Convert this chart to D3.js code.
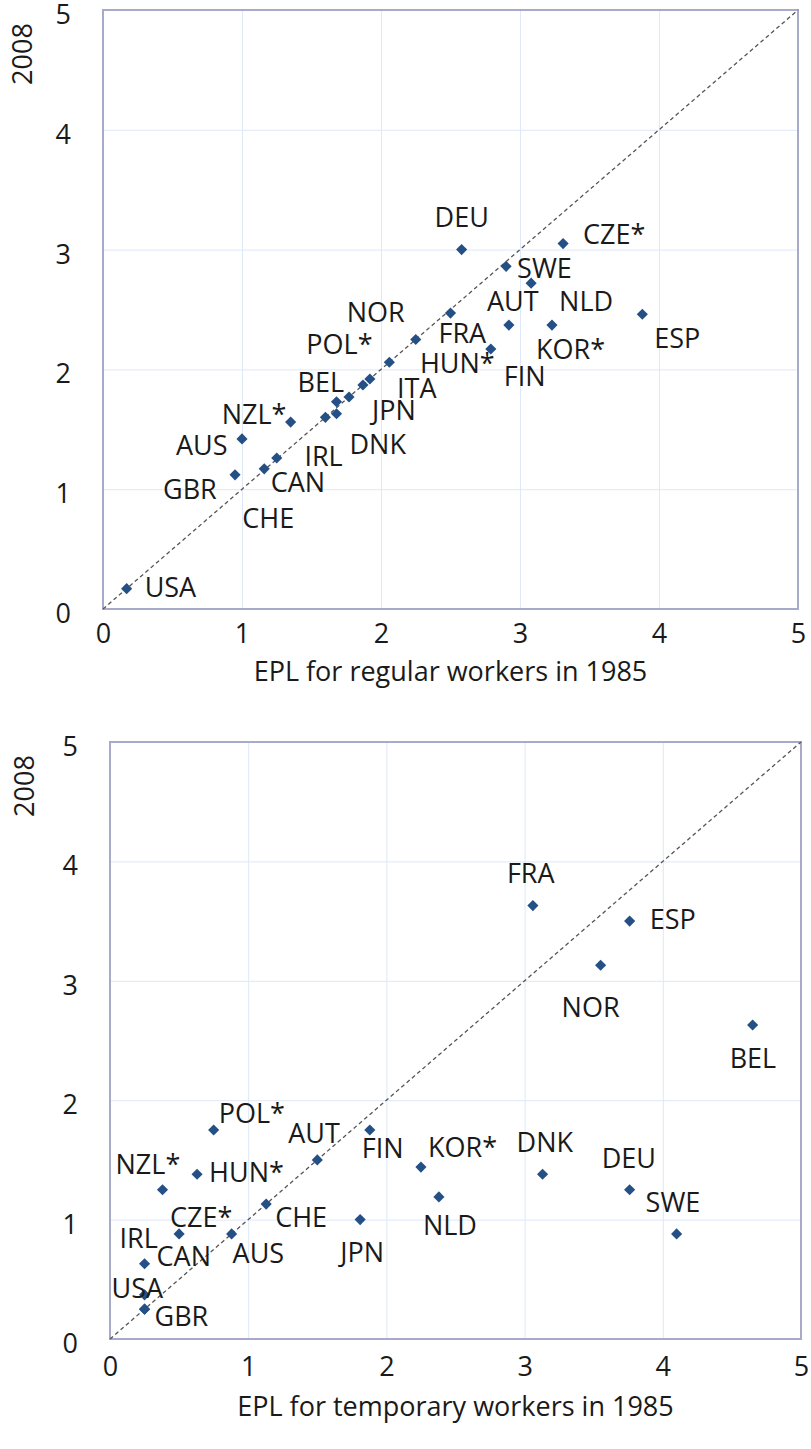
<!DOCTYPE html>
<html>
<head>
<meta charset="utf-8">
<script src="https://cdn.jsdelivr.net/npm/d3@7"></script>
<style>
  body { margin: 0; background: #fff; }
  text { font-family: "Open Sans", sans-serif; fill: #1a1a1a; }
</style>
</head>
<body>
<svg id="chart" width="811" height="1449"></svg>
<script>
// EPL for regular workers: 1985 (x) vs 2008 (y)
var regCountries = ["USA","GBR","AUS","CHE","CAN","NZL*","IRL","DNK","BEL","ITA","JPN","HUN*","POL*","NOR","FRA","FIN","DEU","SWE","AUT","NLD","KOR*","CZE*","ESP"];
var reg1985 = [0.17,0.95,1.00,1.16,1.25,1.35,1.60,1.68,1.68,1.77,1.87,1.92,2.06,2.25,2.50,2.79,2.58,2.90,2.92,3.08,3.23,3.31,3.88];
var reg2008 = [0.17,1.12,1.42,1.17,1.26,1.56,1.60,1.63,1.73,1.77,1.87,1.92,2.06,2.25,2.47,2.17,3.00,2.86,2.37,2.72,2.37,3.05,2.46];

// EPL for temporary workers: 1985 (x) vs 2008 (y)
var tmpCountries = ["GBR","CAN","USA","IRL","CZE*","NZL*","HUN*","POL*","AUS","CHE","AUT","JPN","FIN","KOR*","NLD","FRA","DNK","NOR","ESP","DEU","SWE","BEL"];
var tmp1985 = [0.25,0.25,0.25,0.25,0.50,0.38,0.63,0.75,0.88,1.13,1.50,1.81,1.88,2.25,2.38,3.06,3.13,3.55,3.76,3.76,4.10,4.65];
var tmp2008 = [0.25,0.25,0.37,0.63,0.88,1.25,1.38,1.75,0.88,1.13,1.50,1.00,1.75,1.44,1.19,3.63,1.38,3.13,3.50,1.25,0.88,2.63];

var ticks = [0, 1, 2, 3, 4, 5];
var yTitle = "2008";
var regTitle = "EPL for regular workers in 1985";
var tmpTitle = "EPL for temporary workers in 1985";

// where each data label sits relative to its marker (left edge, baseline), px
var regLabelPos = {
  "USA": [18, 8], "GBR": [-72, 24], "AUS": [-66, 16], "CHE": [-22, 59], "CAN": [-6, 34],
  "NZL*": [-69, 2], "IRL": [-21, 49], "DNK": [13, 40], "BEL": [-39, -10], "ITA": [48, 1],
  "JPN": [9, 35], "HUN*": [50, -6], "POL*": [-83, -8], "NOR": [-69, -17], "FRA": [-12, 30],
  "FIN": [13, 37], "DEU": [-27, -23], "SWE": [11, 12], "AUT": [-22, -14], "NLD": [28, 28],
  "KOR*": [-16, 34], "CZE*": [20, 0], "ESP": [12, 34]
};
var tmpLabelPos = {
  "GBR": [10, 17], "CAN": [12, -43], "USA": [-33, 3], "IRL": [-25, -16], "CZE*": [-9, -7],
  "NZL*": [-47, -16], "HUN*": [12, 8], "POL*": [5, -7], "AUS": [1, 29], "CHE": [9, 23],
  "AUT": [-29, -17], "JPN": [-20, 42], "FIN": [-8, 28], "KOR*": [7, -10], "NLD": [-16, 38],
  "FRA": [-26, -23], "DNK": [-26, -22], "NOR": [-39, 52], "ESP": [20, 8], "DEU": [-28, -22],
  "SWE": [-31, -22], "BEL": [-23, 43]
};

var svg = d3.select("#chart");
var fontSize = 27;

function drawPanel(box, names, xs, ys, labelPos, xTitle) {
  var g = svg.append("g");
  var x = d3.scaleLinear().domain([0, 5]).range([box.left, box.right]);
  var y = d3.scaleLinear().domain([0, 5]).range([box.bottom, box.top]);

  // gridlines
  g.append("g")
      .attr("transform", "translate(0," + box.bottom + ")")
      .call(d3.axisBottom(x).tickValues(ticks).tickSize(-(box.bottom - box.top)).tickFormat(""))
      .call(function(s) { s.select(".domain").remove(); })
      .selectAll("line").attr("stroke", "#dde9f8");
  g.append("g")
      .attr("transform", "translate(" + box.left + ",0)")
      .call(d3.axisLeft(y).tickValues(ticks).tickSize(-(box.right - box.left)).tickFormat(""))
      .call(function(s) { s.select(".domain").remove(); })
      .selectAll("line").attr("stroke", "#dde9f8");

  // plot border
  g.append("rect")
      .attr("x", box.left).attr("y", box.top)
      .attr("width", box.right - box.left).attr("height", box.bottom - box.top)
      .attr("fill", "none").attr("stroke", "#a9a9ca").attr("stroke-width", 2);

  // tick labels
  var xa = g.append("g")
      .attr("transform", "translate(0," + box.bottom + ")")
      .call(d3.axisBottom(x).tickValues(ticks).tickSize(0).tickPadding(box.tickPad).tickFormat(d3.format("d")));
  xa.select(".domain").remove();
  xa.selectAll("text").attr("font-size", fontSize).attr("font-family", null).attr("fill", "#1a1a1a");

  var ya = g.append("g")
      .attr("transform", "translate(" + box.left + ",0)")
      .call(d3.axisLeft(y).tickValues(ticks).tickSize(0).tickPadding(32).tickFormat(d3.format("d")));
  ya.select(".domain").remove();
  ya.selectAll("text").attr("font-size", fontSize).attr("font-family", null).attr("fill", "#1a1a1a")
      .attr("dy", "0.5em");

  // 45 degree line
  g.append("line")
      .attr("x1", x(0)).attr("y1", y(0)).attr("x2", x(5)).attr("y2", y(5))
      .attr("stroke", "#555").attr("stroke-width", 1.3).attr("stroke-dasharray", "4,3");

  var pts = names.map(function(n, i) { return {name: n, x: xs[i], y: ys[i]}; });

  // markers
  g.selectAll(".pt")
    .data(pts)
    .enter().append("path")
      .attr("class", "pt")
      .attr("d", d3.symbol(d3.symbolSquare, 62))
      .attr("transform", function(d) { return "translate(" + x(d.x) + "," + y(d.y) + ") rotate(45)"; })
      .attr("fill", "#245086");

  // data labels
  g.selectAll(".lbl")
    .data(pts)
    .enter().append("text")
      .attr("class", "lbl")
      .attr("x", function(d) { return x(d.x) + labelPos[d.name][0]; })
      .attr("y", function(d) { return y(d.y) + labelPos[d.name][1]; })
      .attr("font-size", fontSize)
      .text(function(d) { return d.name; });

  // axis titles
  g.append("text")
      .attr("x", (box.left + box.right) / 2).attr("y", box.bottom + box.titleOff)
      .attr("dy", "0.35em").attr("text-anchor", "middle")
      .attr("font-size", fontSize)
      .text(xTitle);
  g.append("text")
      .attr("transform", "translate(" + box.yTitleX + "," + (box.top + 44) + ") rotate(-90)")
      .attr("dy", "0.35em").attr("text-anchor", "middle")
      .attr("font-size", fontSize)
      .text(yTitle);
}

drawPanel({left: 103, right: 798, top: 10, bottom: 609, yTitleX: 23, tickPad: 15, titleOff: 63},
  regCountries, reg1985, reg2008, regLabelPos, regTitle);
drawPanel({left: 110, right: 801, top: 742, bottom: 1339, yTitleX: 25, tickPad: 18, titleOff: 68},
  tmpCountries, tmp1985, tmp2008, tmpLabelPos, tmpTitle);
</script>
</body>
</html>
